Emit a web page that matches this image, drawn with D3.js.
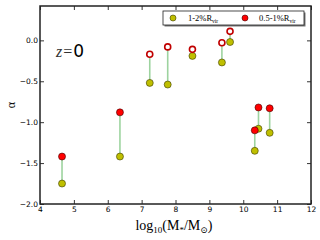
<!DOCTYPE html>
<html>
<head>
<meta charset="utf-8">
<script src="https://cdn.jsdelivr.net/npm/d3@7"></script>
<style>
  body { margin: 0; background: #fff; }
</style>
</head>
<body>
<svg id="chart" width="320" height="240" font-family="DejaVu Sans, sans-serif"></svg>
<script>
// log10 stellar mass for each galaxy
const logMass = [4.65, 6.36, 7.24, 7.77, 8.50, 9.37, 9.61, 10.34, 10.45, 10.78];
// slope alpha measured at 1-2% Rvir
const alphaOuter = [-1.75, -1.42, -0.52, -0.54, -0.19, -0.27, -0.02, -1.35, -1.08, -1.13];
// slope alpha measured at 0.5-1% Rvir
const alphaInner = [-1.42, -0.88, -0.17, -0.08, -0.11, -0.03, 0.11, -1.10, -0.82, -0.83];
// inner point drawn open (white face) or filled
const innerOpen = [false, false, true, true, true, true, true, false, false, false];

const xTicks = [4, 5, 6, 7, 8, 9, 10, 11, 12];
const yTicks = [-2.0, -1.5, -1.0, -0.5, 0.0];

const svg = d3.select('#chart');
const plotL = 40, plotR = 311, plotT = 6, plotB = 204;
const serif = '"Liberation Serif", "DejaVu Serif", serif';

const x = d3.scaleLinear().domain([4, 12]).range([plotL, plotR]);
const y = d3.scaleLinear().domain([-2.0, 0.42]).range([plotB, plotT]);

const rows = logMass.map(function (m, i) {
    return { m: m, a1: alphaOuter[i], a2: alphaInner[i], open: innerOpen[i] };
});

// connecting lines
svg.append('g')
    .selectAll('line')
    .data(rows)
    .enter()
    .append('line')
    .attr('x1', function (d) { return x(d.m); })
    .attr('x2', function (d) { return x(d.m); })
    .attr('y1', function (d) { return y(d.a1); })
    .attr('y2', function (d) { return y(d.a2); })
    .attr('stroke', '#4caf50')
    .attr('stroke-opacity', 0.55)
    .attr('stroke-width', 1.6);

// 1-2% markers
svg.append('g')
    .selectAll('circle')
    .data(rows)
    .enter()
    .append('circle')
    .attr('cx', function (d) { return x(d.m); })
    .attr('cy', function (d) { return y(d.a1); })
    .attr('r', 3.5)
    .attr('fill', '#bfbf00')
    .attr('stroke', '#3a3a00')
    .attr('stroke-width', 0.6);

// 0.5-1% markers
svg.append('g')
    .selectAll('circle')
    .data(rows)
    .enter()
    .append('circle')
    .attr('cx', function (d) { return x(d.m); })
    .attr('cy', function (d) { return y(d.a2); })
    .attr('r', function (d) { return d.open ? 3 : 3.5; })
    .attr('fill', function (d) { return d.open ? '#fff' : '#ff0000'; })
    .attr('stroke', function (d) { return d.open ? '#c00000' : '#400000'; })
    .attr('stroke-width', function (d) { return d.open ? 1.6 : 0.6; });

// axes: ticks point inward on all four sides
const tickStyle = function (g) {
    g.select('.domain').remove();
    g.selectAll('line').attr('stroke', '#000').attr('stroke-width', 0.8);
    g.attr('font-family', null);
};

svg.append('g')
    .attr('transform', 'translate(0,' + plotB + ')')
    .call(d3.axisBottom(x).tickValues(xTicks).tickSize(-4).tickPadding(3).tickFormat(d3.format('d')))
    .call(tickStyle)
    .selectAll('text').attr('font-size', 7.5).attr('fill', '#000');

svg.append('g')
    .attr('transform', 'translate(0,' + plotT + ')')
    .call(d3.axisTop(x).tickValues(xTicks).tickSize(-4).tickFormat(''))
    .call(tickStyle);

svg.append('g')
    .attr('transform', 'translate(' + plotL + ',0)')
    .call(d3.axisLeft(y).tickValues(yTicks).tickSize(-4).tickPadding(2).tickFormat(d3.format('.1f')))
    .call(tickStyle)
    .selectAll('text').attr('font-size', 7.5).attr('fill', '#000');

svg.append('g')
    .attr('transform', 'translate(' + plotR + ',0)')
    .call(d3.axisRight(y).tickValues(yTicks).tickSize(-4).tickFormat(''))
    .call(tickStyle);

svg.append('rect')
    .attr('x', plotL).attr('y', plotT)
    .attr('width', plotR - plotL).attr('height', plotB - plotT)
    .attr('fill', 'none')
    .attr('stroke', '#222')
    .attr('stroke-width', 1.5);

// legend with shadow
const lg = svg.append('g');
lg.append('rect')
    .attr('x', 164.5).attr('y', 12.5).attr('width', 141).attr('height', 14)
    .attr('fill', '#777');
lg.append('rect')
    .attr('x', 163).attr('y', 11).attr('width', 141).attr('height', 14)
    .attr('fill', '#fff').attr('stroke', '#222').attr('stroke-width', 0.8);
lg.append('circle').attr('cx', 173).attr('cy', 18).attr('r', 3)
    .attr('fill', '#bfbf00').attr('stroke', '#3a3a00').attr('stroke-width', 0.6);
lg.append('circle').attr('cx', 245).attr('cy', 18).attr('r', 3)
    .attr('fill', '#ff0000').attr('stroke', '#400000').attr('stroke-width', 0.6);

const legendText = function (tx, label) {
    const t = lg.append('text').attr('x', tx).attr('y', 21).attr('font-size', 8.5)
        .attr('font-family', serif);
    t.append('tspan').text(label + 'R');
    t.append('tspan').attr('font-size', 5.5).attr('dy', 1.5).text('vir');
};
legendText(188, '1-2%');
legendText(259, '0.5-1%');

// z = 0 label
const zt = svg.append('text').attr('x', 56).attr('y', 57);
zt.append('tspan').attr('font-family', serif).attr('font-style', 'italic')
    .attr('font-size', 16).attr('fill', '#333').text('z');
zt.append('tspan').attr('font-family', serif)
    .attr('font-size', 16).attr('fill', '#333').attr('dx', 1).text('=');
zt.append('tspan').attr('font-size', 17).attr('dx', 1).text('0');

// axis labels
svg.append('text')
    .attr('transform', 'translate(15,105) rotate(-90)')
    .attr('text-anchor', 'middle')
    .attr('font-family', serif)
    .attr('font-size', 12)
    .text('α');

const xl = svg.append('text').attr('x', 174).attr('y', 230).attr('text-anchor', 'middle')
    .attr('font-family', serif).attr('font-size', 14);
xl.append('tspan').text('log');
xl.append('tspan').attr('font-size', 9).attr('dy', 3).text('10');
xl.append('tspan').attr('dy', -3).text('(M');
xl.append('tspan').attr('font-size', 9).attr('dy', 3).text('*');
xl.append('tspan').attr('dy', -3).text('/M');
xl.append('tspan').attr('font-size', 9).attr('dy', 3).text('⊙');
xl.append('tspan').attr('dy', -3).text(')');
</script>
</body>
</html>
